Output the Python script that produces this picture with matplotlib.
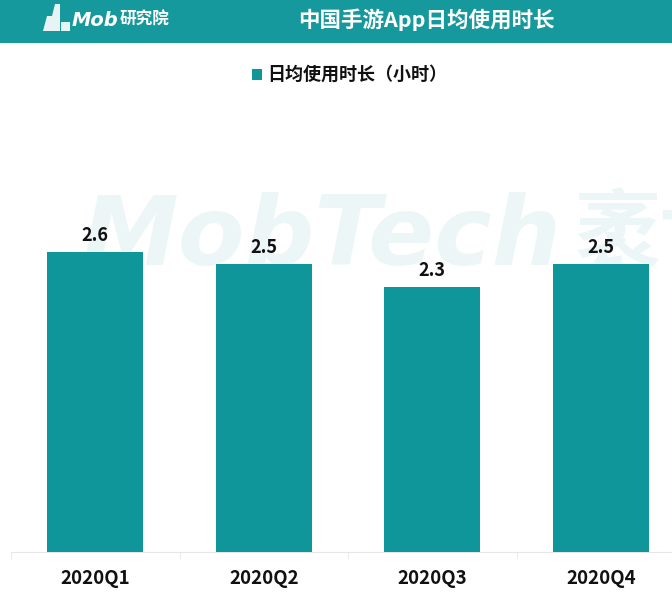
import matplotlib
matplotlib.use("Agg")
import matplotlib.pyplot as plt
from matplotlib.patches import Rectangle, Polygon

plt.rcParams['font.family'] = ['Noto Sans CJK SC', 'DejaVu Sans']

categories = ["2020Q1", "2020Q2", "2020Q3", "2020Q4"]
values = [2.6, 2.5, 2.3, 2.5]
value_labels = ["2.6", "2.5", "2.3", "2.5"]
title = "中国手游App日均使用时长"
legend_label = "日均使用时长（小时）"

teal = "#0f969a"
header = "#16999c"

W, H = 672, 603
fig = plt.figure(figsize=(W/100, H/100), dpi=100)
fig.patch.set_facecolor("white")

# header band
fig.patches.append(Rectangle((0, 1 - 43/H), 1, 43/H, transform=fig.transFigure,
                             facecolor=header, edgecolor="none", zorder=0))
# logo icon
fig.patches.append(Polygon([(43/W, 1-31/H), (47/W, 1-16/H), (52/W, 1-16/H), (55/W, 1-4/H),
                            (60/W, 1-4/H), (60/W, 1-31/H)], closed=True,
                           transform=fig.transFigure, facecolor="#e8f4f4", edgecolor="none"))
fig.patches.append(Rectangle((61/W, 1-31/H), 9/W, 9/H, transform=fig.transFigure,
                             facecolor="#e8f4f4", edgecolor="none"))
fig.text(72/W, 1 - 20/H, "Mob", color="white", fontsize=14, style="italic",
         fontweight="bold", va="center", ha="left", family=["DejaVu Sans"])
fig.text(120/W, 1 - 20/H, "研究院", color="white", fontsize=12, style="italic",
         fontweight="bold", va="center", ha="left")
fig.text(426/W, 1 - 20/H, title, color="white", fontsize=15.5, fontweight="bold",
         va="center", ha="center")

# legend
fig.patches.append(Rectangle((252/W, 1 - 80/H), 10/W, 11/H, transform=fig.transFigure,
                             facecolor=teal, edgecolor="none"))
fig.text(267/W, 1 - 74/H, legend_label, color="#111111", fontsize=13,
         fontweight="bold", va="center", ha="left")

# watermark (behind bars)
fig.text(82/W, 1 - 238/H, "MobTech", color="#edf6f6", fontsize=70, style="italic",
         fontweight="bold", va="center", ha="left",
         family=["DejaVu Sans"], zorder=0.5)
fig.text(575/W, 1 - 236/H, "袤博", color="#edf6f6", fontsize=62,
         fontweight="bold", va="center", ha="left", zorder=0.5)

# axes
left_px, right_px = 11, 685
base_px = 552
ax = fig.add_axes([left_px/W, 1 - base_px/H, (right_px - left_px)/W, 346/H])
ax.set_zorder(2)
ax.set_facecolor("none")
x = list(range(len(categories)))
ax.bar(x, values, width=0.57, color=teal, zorder=3)
for xi, v, lab in zip(x, values, value_labels):
    ax.text(xi, v + 0.06, lab, ha="center", va="bottom", fontsize=13,
            fontweight="bold", color="#111111")
ax.set_xlim(-0.5, 3.5)
ax.set_ylim(0, 3.0)
ax.set_yticks([])
ax.set_xticks(x)
ax.set_xticklabels(categories, fontsize=13.5, fontweight="bold", color="#111111")
ax.set_xticks([-0.5, 0.5, 1.5, 2.5, 3.5], minor=True)
ax.tick_params(axis="x", which="major", length=0, pad=12)
ax.tick_params(axis="x", which="minor", length=5, color="#e6e6e6", direction="out")
for s in ["top", "right", "left"]:
    ax.spines[s].set_visible(False)
ax.spines["bottom"].set_color("#e6e6e6")
ax.spines["bottom"].set_linewidth(0.8)

fig.savefig("out.png", dpi=100, facecolor="white")
